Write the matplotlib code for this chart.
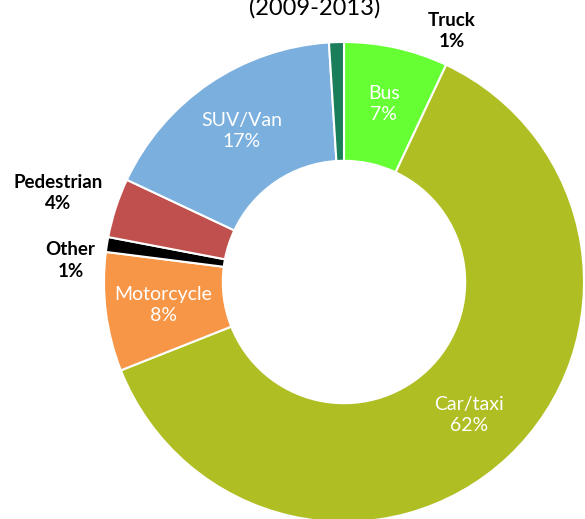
import numpy as np
import matplotlib
matplotlib.use("Agg")
import matplotlib.pyplot as plt

# Road traffic deaths by mode of transport, share of total
categories = ["Bus", "Car/taxi", "Motorcycle", "Other", "Pedestrian", "SUV/Van", "Truck"]
shares = [7, 62, 8, 1, 4, 17, 1]
colors = ["#66FF33", "#AFBE22", "#F79646", "#000000", "#C0504D", "#7AAFDE", "#1B7E5B"]
inside = [True, True, True, False, False, True, False]
title = "(2009-2013)"

# text placement for the labels that sit outside the ring
outside_pos = {"Truck": (0.45, 1.045), "Pedestrian": (-1.19, 0.37), "Other": (-1.14, 0.09)}

plt.rcParams["font.family"] = ["Lato", "DejaVu Sans"]

W, H, DPI = 585, 519, 100
fig = plt.figure(figsize=(W / DPI, H / DPI), dpi=DPI)
ax = fig.add_axes([0, 0, 1, 1])

cx, cy, R = 344, 282, 240  # ring centre / radius in pixels

wedges, _ = ax.pie(shares, colors=colors, startangle=90, counterclock=False,
                   radius=1.0,
                   wedgeprops=dict(width=0.495, edgecolor="white", linewidth=1.5))
ax.set_xlim(-cx / R, (W - cx) / R)
ax.set_ylim(-(H - cy) / R, cy / R)
ax.set_aspect("equal")
ax.axis("off")

for w, name, val, ins in zip(wedges, categories, shares, inside):
    label = f"{name}\n{val}%"
    if ins:
        mid = np.deg2rad((w.theta1 + w.theta2) / 2)
        r = 0.76
        ax.text(r * np.cos(mid), r * np.sin(mid), label, color="white",
                ha="center", va="center", fontsize=14, linespacing=1.32)
    else:
        x, y = outside_pos[name]
        ax.text(x, y, label, color="black", ha="center", va="center",
                fontsize=13.5, fontweight="bold", linespacing=1.32)

ax.text((315 - cx) / R, (cy - 8) / R, title, ha="center", va="center",
        fontsize=17, color="black", clip_on=False)

fig.savefig("out.png", dpi=DPI)
